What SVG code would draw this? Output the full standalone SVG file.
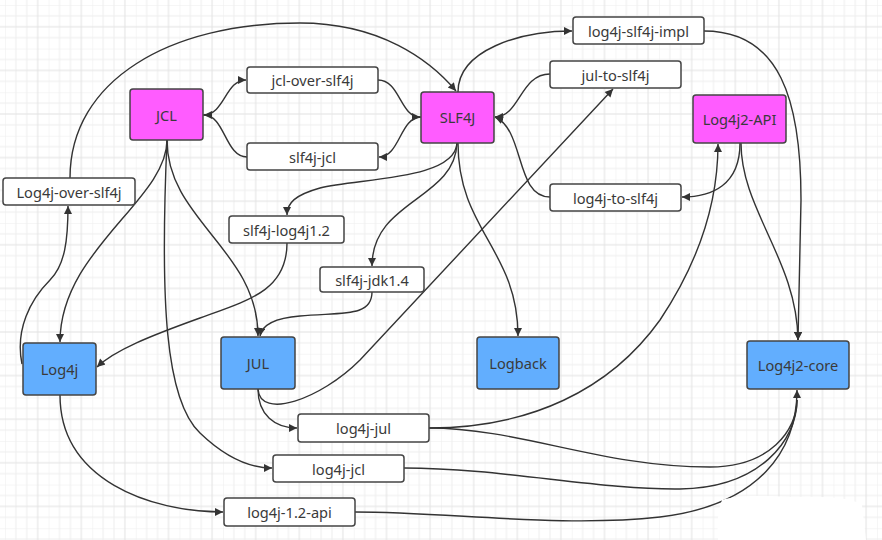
<svg xmlns="http://www.w3.org/2000/svg" width="882" height="540" viewBox="0 0 882 540">
<defs>
<pattern id="grid" x="5" y="5" width="43.6" height="43.6" patternUnits="userSpaceOnUse">
<path d="M0,0V43.6M10.9,0V43.6M21.8,0V43.6M0,0H43.6M10.9,0H43.6M0,10.9H43.6M0,32.7H43.6" fill="none" stroke="#eeeeee" stroke-width="1"/>
<path d="M32.7,0V43.6M0,21.8H43.6" fill="none" stroke="#e2e2e2" stroke-width="1"/>
</pattern>
<marker id="arr" viewBox="0 0 10 10" refX="10" refY="5" markerWidth="10" markerHeight="8" markerUnits="userSpaceOnUse" orient="auto">
<path d="M0,0L10,5L0,10z" fill="#333"/>
</marker>
</defs>
<style>
.bx{stroke:#444;stroke-width:1.5}
.w{fill:#fff}
.m{fill:#ff5cff}
.b{fill:#62aefe}
text{font-family:"Noto Sans","Open Sans",sans-serif;font-size:14.6px;fill:#3a3a3a;text-anchor:middle;dominant-baseline:central}
.e{fill:none;stroke:#333;stroke-width:1.4;marker-end:url(#arr)}
.n{fill:none;stroke:#333;stroke-width:1.4}
</style>
<rect width="882" height="540" fill="#fff"/>
<rect width="882" height="540" fill="url(#grid)"/>
<g id="connectors">
<path class="e" d="M203,115 C225,115 225,80 246,80"/>
<path class="e" d="M247,157 C225,157 225,115 204,115"/>
<path class="e" d="M378,80 C400,80 400,117 420,117"/>
<path class="e" d="M421,117 C400,117 400,157 379,157"/>
<path class="e" d="M70,178 C70,80 170,23 300,23 C380,23 430,60 456,91"/>
<path class="e" d="M22,364 C15,330 30,300 50,280 C65,265 68,240 68,206"/>
<path class="e" d="M458,92 C458,50 520,31 572,31"/>
<path class="e" d="M550,74 C520,74 520,117 495,117"/>
<path class="e" d="M550,197 C515,197 525,130 495,117"/>
<path class="e" d="M704,31 C780,31 801,100 801,200 L798,340"/>
<path class="e" d="M740,143 C740,185 712,197 682,197"/>
<path class="e" d="M741,143 C741,210 797,260 798,340"/>
<path class="e" d="M258,389 C260,420 320,400 360,360 L613,89"/>
<path class="e" d="M258,389 C258,415 275,428 297,428"/>
<path class="e" d="M429,428 C530,428 610,390 660,320 C700,260 718,200 718,144"/>
<path class="n" d="M429,428 C520,428 600,467 710,467 C770,467 797,430 797,400"/>
<path class="n" d="M404,468 C500,468 600,490 680,489 C760,488 797,440 797,400"/>
<path class="e" d="M355,512 C450,512 560,528 660,517 C760,505 797,450 797,390"/>
<path class="e" d="M167,140 C167,200 60,250 60,342"/>
<path class="e" d="M167,140 C167,220 258,250 258,336"/>
<path class="e" d="M167,140 C160,300 165,400 200,433 C225,457 250,468 272,468"/>
<path class="e" d="M457,143 C455,180 360,178 320,188 C295,195 287,203 287,215"/>
<path class="e" d="M287,243 C287,290 250,300 200,318 C150,336 115,350 97,367"/>
<path class="e" d="M457,143 C455,200 372,200 372,266"/>
<path class="e" d="M372,292 C372,318 340,312 300,316 C275,318 262,325 260,336"/>
<path class="e" d="M458,143 C458,230 518,250 518,336"/>
<path class="e" d="M60,395 C60,480 150,512 223,512"/>
</g>
<g id="JCL"><rect class="bx m" x="130" y="89" width="73" height="51" rx="3"/><text x="166.5" y="115">JCL</text></g>
<g id="SLF4J"><rect class="bx m" x="421" y="92" width="73" height="51" rx="3"/><text x="457.5" y="117">SLF4J</text></g>
<g id="Log4j2-API"><rect class="bx m" x="693" y="95" width="93" height="48" rx="3"/><text x="739.5" y="119">Log4j2-API</text></g>
<g id="Log4j"><rect class="bx b" x="23" y="343" width="73" height="52" rx="3"/><text x="59.5" y="369">Log4j</text></g>
<g id="JUL"><rect class="bx b" x="221" y="337" width="74" height="52" rx="3"/><text x="258" y="363">JUL</text></g>
<g id="Logback"><rect class="bx b" x="477" y="337" width="82" height="52" rx="3"/><text x="518" y="363">Logback</text></g>
<g id="Log4j2-core"><rect class="bx b" x="747" y="341" width="102" height="48" rx="3"/><text x="798" y="365">Log4j2-core</text></g>
<g id="jcl-over-slf4j"><rect class="bx w" x="247" y="67" width="131" height="26" rx="3"/><text x="312.5" y="80">jcl-over-slf4j</text></g>
<g id="slf4j-jcl"><rect class="bx w" x="247" y="143" width="131" height="27" rx="3"/><text x="312.5" y="156.5">slf4j-jcl</text></g>
<g id="Log4j-over-slf4j"><rect class="bx w" x="3" y="178" width="132" height="27" rx="3"/><text x="69" y="191.5">Log4j-over-slf4j</text></g>
<g id="log4j-slf4j-impl"><rect class="bx w" x="573" y="17" width="131" height="27" rx="3"/><text x="638.5" y="30.5">log4j-slf4j-impl</text></g>
<g id="jul-to-slf4j"><rect class="bx w" x="550" y="61" width="131" height="27" rx="3"/><text x="615.5" y="74.5">jul-to-slf4j</text></g>
<g id="log4j-to-slf4j"><rect class="bx w" x="550" y="184" width="131" height="27" rx="3"/><text x="615.5" y="197.5">log4j-to-slf4j</text></g>
<g id="slf4j-log4j1.2"><rect class="bx w" x="229" y="216" width="115" height="27" rx="3"/><text x="286.5" y="229.5">slf4j-log4j1.2</text></g>
<g id="slf4j-jdk1.4"><rect class="bx w" x="320" y="267" width="104" height="25" rx="3"/><text x="372" y="279.5">slf4j-jdk1.4</text></g>
<g id="log4j-jul"><rect class="bx w" x="298" y="414" width="131" height="28" rx="3"/><text x="363.5" y="428">log4j-jul</text></g>
<g id="log4j-jcl"><rect class="bx w" x="273" y="455" width="131" height="27" rx="3"/><text x="338.5" y="468.5">log4j-jcl</text></g>
<g id="log4j-1.2-api"><rect class="bx w" x="224" y="498" width="131" height="28" rx="3"/><text x="289.5" y="512">log4j-1.2-api</text></g>
<path d="M722,500 Q740,494 790,497 Q850,495 862,505 L866,540 L718,540 Q716,515 722,500z" fill="#fff"/>
</svg>
